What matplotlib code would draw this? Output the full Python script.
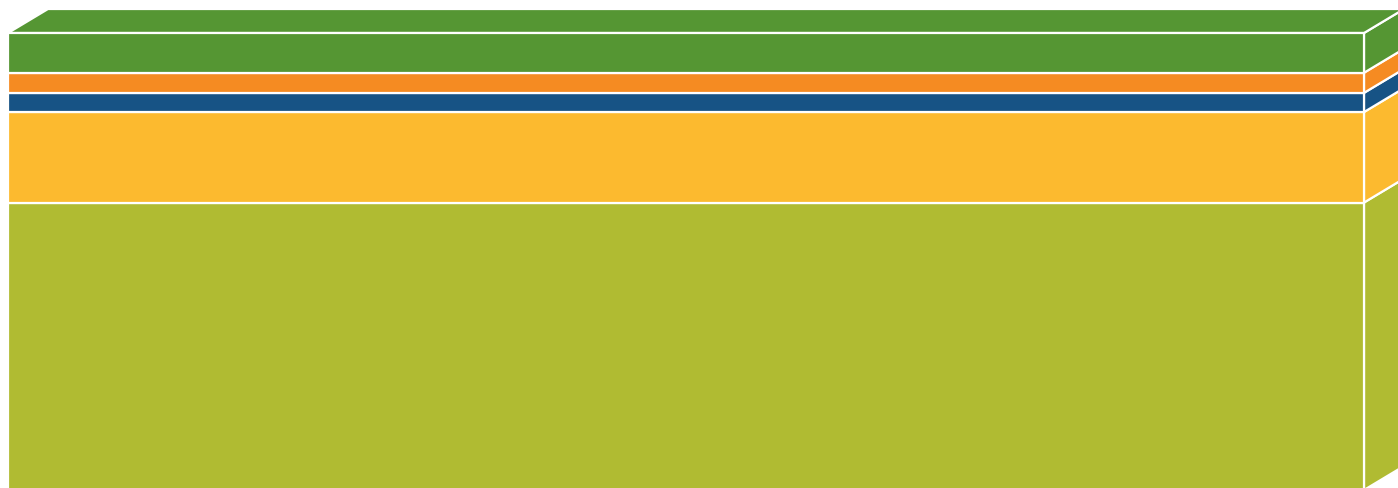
import matplotlib.pyplot as plt
from matplotlib.patches import Polygon

# stacked shares, bottom to top
segments = ['olive', 'yellow', 'blue', 'orange', 'green']
values = [62.9, 19.8, 4.2, 4.4, 8.7]
colors = ['#b0bb32', '#fcba2f', '#175385', '#f58b22', '#559633']

W, H = 1398, 488
fig = plt.figure(figsize=(W / 100, H / 100), dpi=100)
ax = fig.add_axes([0, 0, 1, 1])

# layout: bar front face 8..1364 px, stack top at 33 px, bottom just below the canvas
bar_px = 1356
total = sum(values)
px_per_unit = 457 / total
ax.set_xlim(-8 / bar_px, (W - 8) / bar_px)
ax.set_ylim(2 / px_per_unit, total + 33 / px_per_unit)
ax.axis('off')

dx = 40 / bar_px          # depth offset
dy = 24 / px_per_unit

edge = dict(edgecolor='white', linewidth=1.6, joinstyle='miter')

bottom = 0
for val, col in zip(values, colors):
    ax.bar(0, val, width=1, bottom=bottom, align='edge', color=col, **edge, zorder=3)
    top = bottom + val
    side = Polygon([(1, bottom), (1 + dx, bottom + dy), (1 + dx, top + dy), (1, top)],
                   closed=True, facecolor=col, **edge, zorder=2)
    ax.add_patch(side)
    bottom = top

top_face = Polygon([(0, bottom), (dx, bottom + dy), (1 + dx, bottom + dy), (1, bottom)],
                   closed=True, facecolor=colors[-1], **edge, zorder=2)
ax.add_patch(top_face)

fig.savefig('out.png', dpi=100)
